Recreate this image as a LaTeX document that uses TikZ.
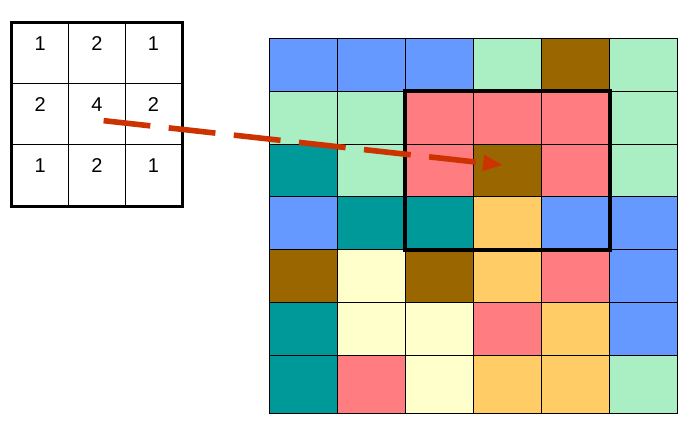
\documentclass[tikz,border=0pt]{standalone}
\usepackage{fontspec}
\setmainfont{Liberation Sans}
\usetikzlibrary{arrows.meta,calc}
\definecolor{cB}{RGB}{102,153,255}
\definecolor{cG}{RGB}{170,238,196}
\definecolor{cBr}{RGB}{153,102,0}
\definecolor{cP}{RGB}{255,124,128}
\definecolor{cT}{RGB}{0,153,153}
\definecolor{cY}{RGB}{255,255,204}
\definecolor{cO}{RGB}{255,204,102}
\definecolor{arr}{RGB}{204,51,0}
\tikzset{
  gcell/.style={draw=black, line width=0.9pt, inner sep=0pt, minimum width=68pt},
  kcell/.style={draw=black, line width=0.9pt, inner sep=0pt, minimum width=56.6pt, minimum height=61.1pt,
    font=\fontsize{20}{24}\selectfont, text height=14.5pt, text depth=19.5pt},
  kborder/.style={draw=black, line width=2.6pt},
  window/.style={draw=black, line width=4pt},
  arrowline/.style={draw=arr, line width=5.6pt, dash pattern=on 47pt off 18.5pt,
    -{Triangle[length=20pt,width=15pt]}}
}
\begin{document}
\begin{tikzpicture}[x=1pt,y=-1pt]
\useasboundingbox[fill=white] (0,0) rectangle (692,424);
% big grid
\foreach \r/\yt/\h/\cols in {
  1/38.3/53/{cB,cB,cB,cG,cBr,cG},
  2/91.3/52.7/{cG,cG,cP,cP,cP,cG},
  3/144/52.5/{cT,cG,cP,cBr,cP,cG},
  4/196.5/52.8/{cB,cT,cT,cO,cB,cB},
  5/249.3/53/{cBr,cY,cBr,cO,cP,cB},
  6/302.3/53/{cT,cY,cY,cP,cO,cB},
  7/355.3/58/{cT,cP,cY,cO,cO,cG}} {
  \foreach \c [count=\i] in \cols {
    \node[gcell, fill=\c, minimum height=\h pt] (g\r\i) at ({269.5+68*(\i-1)+34},{\yt+\h/2}) {};
  }
}
\draw[window] (g23.north west) rectangle (g45.south east);
% kernel
\foreach \r/\vals in {1/{1,2,1},2/{2,4,2},3/{1,2,1}} {
  \foreach \v [count=\i] in \vals {
    \node[kcell] (k\r\i) at ({12+56.6*(\i-1)+28.3},{22.7+61.1*(\r-1)+30.55}) {\v};
  }
}
\draw[kborder] (k11.north west) rectangle (k33.south east);
% arrow
\coordinate (s) at ($(k22.center)+(6.7,6.3)$);
\coordinate (e) at ($(g34.center)+(-4.5,-5.2)$);
\draw[arrowline] (s) -- (e);
\end{tikzpicture}
\end{document}
